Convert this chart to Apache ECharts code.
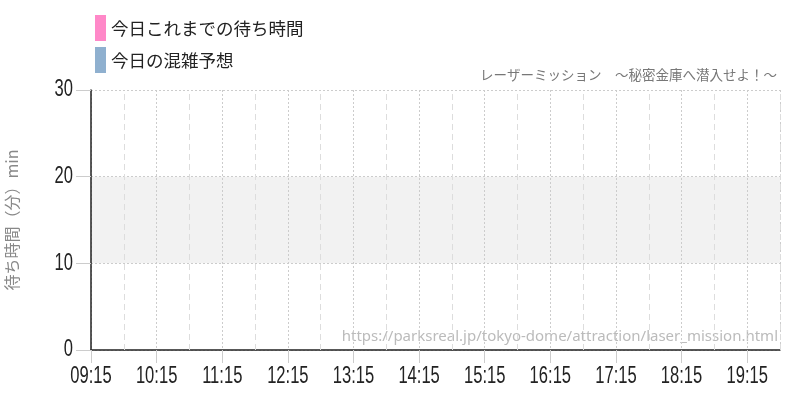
<!DOCTYPE html>
<html><head><meta charset="utf-8">
<script src="https://cdn.jsdelivr.net/npm/echarts@6/dist/echarts.min.js"></script>
<style>html,body{margin:0;padding:0;background:#fff}#c{width:800px;height:400px}</style>
</head><body><div id="c"></div>
<script>
// ---- data ----
var startTime = '09:15';
var endTime = '19:45';
var hourLabels = ['09:15','10:15','11:15','12:15','13:15','14:15','15:15','16:15','17:15','18:15','19:15'];
var halfHourMarks = ['09:45','10:45','11:45','12:45','13:45','14:45','15:45','16:45','17:45','18:45','19:45'];
var waitTimes = [];      // 今日これまでの待ち時間 (no data yet)
var forecastTimes = [];  // 今日の混雑予想 (no data)
var forecastValues = [];
var waitValues = [];
var yTicks = [0, 10, 20, 30];
var seriesNames = ['今日これまでの待ち時間', '今日の混雑予想'];
var titleText = 'レーザーミッション　～秘密金庫へ潜入せよ！～';
var sourceText = 'https://parksreal.jp/tokyo-dome/attraction/laser_mission.html';
var yName = '待ち時間（分）min';

function toMin(t){var p=t.split(':');return (+p[0])*60+(+p[1]);}
var base = toMin(startTime);
function rel(t){return toMin(t)-base;}
function fmt(v){var m=base+v;var h=Math.floor(m/60),mm=m%60;return (h<10?'0':'')+h+':'+(mm<10?'0':'')+mm;}

var numFont = "'Liberation Sans',Arial,sans-serif";
var jpFont = "'Noto Sans CJK JP',sans-serif";

var chart = echarts.init(document.getElementById('c'));
chart.setOption({
  animation:false,
  title:{text:titleText,right:23,top:68,padding:0,textStyle:{fontSize:13.5,fontWeight:'normal',color:'#777',fontFamily:jpFont}},
  legend:{orient:'vertical',left:95,top:15,padding:0,itemWidth:11,itemHeight:26,itemGap:6,icon:'rect',
    data:seriesNames,textStyle:{fontSize:17.5,color:'#222',fontFamily:jpFont}},
  graphic:[{type:'text',right:22,top:329,silent:true,
    style:{text:sourceText,fontSize:15,fill:'#bbb',fontFamily:"'Noto Sans','Open Sans',sans-serif"}}],
  grid:{left:91,right:20,top:90,bottom:50,containLabel:false,outerBoundsMode:'none'},
  xAxis:{type:'value',min:0,max:rel(endTime),interval:60,
    axisLine:{show:true,lineStyle:{color:'#222',width:1.5}},
    axisTick:{show:true,length:13,lineStyle:{color:'#ccc'}},
    axisLabel:{margin:15,fontSize:23,color:'#222',fontFamily:numFont,showMaxLabel:false,
      formatter:function(v){var s=fmt(v);return hourLabels.indexOf(s)>=0?s:'';}},
    splitLine:{show:true,lineStyle:{color:'#ccc',type:[2,2],width:1}}
  },
  yAxis:{type:'value',min:yTicks[0],max:yTicks[yTicks.length-1],interval:10,
    name:yName,nameLocation:'middle',nameRotate:90,nameGap:71,
    nameTextStyle:{fontSize:16,color:'#888',fontFamily:jpFont},
    axisLine:{show:true,lineStyle:{color:'#222',width:1.5}},
    axisTick:{show:true,length:15,lineStyle:{color:'#ccc'}},
    axisLabel:{margin:18,fontSize:23,color:'#222',fontFamily:numFont},
    splitLine:{show:true,lineStyle:{color:'#ccc',type:[2,2],width:1}},
    splitArea:{show:true,areaStyle:{color:['rgba(0,0,0,0)','#f2f2f2']}}
  },
  series:[
    {name:seriesNames[0],type:'bar',itemStyle:{color:'#ff88c8'},
      data:waitTimes.map(function(t,i){return [rel(t),waitValues[i]];})},
    {name:seriesNames[1],type:'line',itemStyle:{color:'#8fb0cf'},showSymbol:false,
      data:forecastTimes.map(function(t,i){return [rel(t),forecastValues[i]];}),
      markLine:{silent:true,symbol:'none',label:{show:false},
        lineStyle:{color:'#ddd',type:[6,4],width:1},
        data:halfHourMarks.map(function(t){return {xAxis:rel(t)};})}}
  ]
});

// emulate the condensed numeral font of the axis labels by narrowing them horizontally
(function(){
  var zr = chart.getZr();
  zr.storage.getRoots().forEach(function(root){
    root.traverse(function(el){
      if (el.type === 'text' && el.style && /^\d+(:\d\d)?$/.test(el.style.text || '')) {
        el.scaleX = 0.72;
        el.markRedraw();
      }
    });
  });
  zr.refreshImmediately && zr.refreshImmediately();
})();
</script></body></html>
